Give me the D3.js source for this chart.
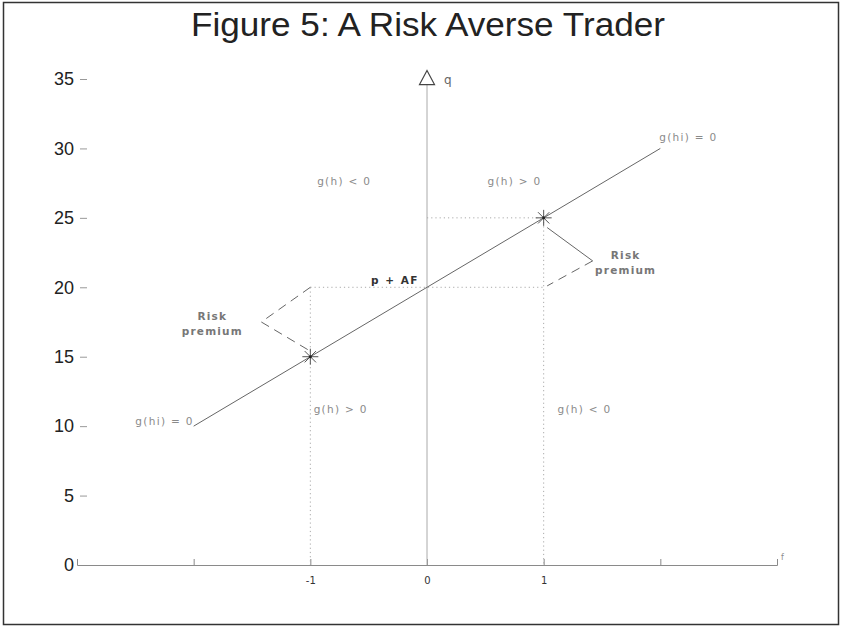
<!DOCTYPE html>
<html>
<head>
<meta charset="utf-8">
<script src="https://cdn.jsdelivr.net/npm/d3@7"></script>
<style>
  html, body { margin: 0; padding: 0; background: #fff; }
  svg { display: block; }
</style>
</head>
<body>
<svg id="chart" width="842" height="628"></svg>
<script>
// Axis ticks
const yTicks = [0, 5, 10, 15, 20, 25, 30, 35];
const xTicks = [-2, -1, 0, 1, 2];
const xTickLabels = ["", "-1", "0", "1", ""];

// Hedging line g(hi) = 0 : endpoints in (f, q)
const lineF = [-2, 2];
const lineQ = [10, 30];

// Chosen positions (asterisks)
const pointF = [-1, 1];
const pointQ = [15, 25];

// Reference level p + AF
const refQ = 20;

// Risk premium brackets (f, q)
const bracketLeftF = [-1, -1.42, -1];
const bracketLeftQ = [20, 17.5, 15.4];
const bracketRightF = [1.03, 1.42, 1.03];
const bracketRightQ = [24.3, 21.9, 20.1];

// Region annotations
const regionText = ["g(h) < 0", "g(h) > 0", "g(h) > 0", "g(h) < 0"];
const regionF = [-0.71, 0.75, -0.74, 1.35];
const regionQ = [27.6, 27.6, 11.2, 11.2];

const svg = d3.select("#chart");
const W = 842, H = 628;

const x = d3.scaleLinear().domain([-3, 3]).range([77, 777]);
const y = d3.scaleLinear().domain([0, 35]).range([565, 79]);

const soft = "#8a8a8a";
const labelFont = "'DejaVu Sans', Verdana, sans-serif";

// Frame
svg.append("rect")
  .attr("x", 3.5).attr("y", 2.5)
  .attr("width", W - 7).attr("height", H - 6)
  .attr("fill", "none").attr("stroke", "#333").attr("stroke-width", 1.5);

// Title
svg.append("text")
  .attr("x", 428).attr("y", 36)
  .attr("text-anchor", "middle")
  .attr("font-family", "'Liberation Sans Narrow', 'Liberation Sans', Arial, sans-serif")
  .attr("font-size", 34)
  .attr("fill", "#222")
  .attr("textLength", 474)
  .attr("lengthAdjust", "spacingAndGlyphs")
  .text("Figure 5: A Risk Averse Trader");

// Y ticks (detached marks, no spine)
const yAxis = svg.append("g")
  .attr("transform", "translate(87,0)")
  .call(d3.axisLeft(y).tickValues(yTicks).tickSize(7).tickPadding(6).tickFormat(d3.format("d")));
yAxis.select(".domain").remove();
yAxis.selectAll(".tick line").attr("stroke", "#999");
yAxis.selectAll(".tick text")
  .attr("font-family", "'Liberation Sans', Arial, sans-serif")
  .attr("font-size", 18)
  .attr("fill", "#222");

// X axis with upturned ends and inward ticks
const xAxis = svg.append("g")
  .attr("transform", `translate(0,${y(0)})`)
  .call(d3.axisBottom(x).tickValues(xTicks).tickSizeInner(-6).tickSizeOuter(-6).tickPadding(12)
    .tickFormat((d, i) => xTickLabels[i]));
xAxis.select(".domain").attr("stroke", soft);
xAxis.selectAll(".tick line").attr("stroke", soft);
xAxis.selectAll(".tick text")
  .attr("font-family", labelFont)
  .attr("font-size", 10)
  .attr("fill", "#333");

svg.append("text")
  .attr("x", x(3) + 4).attr("y", y(0) - 5)
  .attr("font-family", labelFont).attr("font-size", 8).attr("fill", soft)
  .text("f");

// Vertical q axis with hollow arrow head
const qTop = 34.6;
svg.append("line")
  .attr("x1", x(0)).attr("x2", x(0))
  .attr("y1", y(0)).attr("y2", y(qTop))
  .attr("stroke", "#aaa").attr("stroke-width", 1);
svg.append("path")
  .attr("d", `M${x(0)},${y(qTop) - 14}L${x(0) - 7.5},${y(qTop)}L${x(0) + 7.5},${y(qTop)}Z`)
  .attr("fill", "#fff").attr("stroke", "#444").attr("stroke-width", 1.2);
svg.append("text")
  .attr("x", x(0) + 17).attr("y", y(qTop) - 1)
  .attr("font-family", labelFont).attr("font-size", 12).attr("fill", "#666")
  .text("q");

// Dotted guide lines
const dotted = svg.append("g")
  .attr("stroke", "#aaa").attr("stroke-width", 1)
  .attr("stroke-dasharray", "1.2,3").attr("fill", "none");
dotted.append("line")
  .attr("x1", x(pointF[0])).attr("x2", x(pointF[1]))
  .attr("y1", y(refQ)).attr("y2", y(refQ));
dotted.append("line")
  .attr("x1", x(0)).attr("x2", x(pointF[1]))
  .attr("y1", y(pointQ[1])).attr("y2", y(pointQ[1]));
pointF.forEach((f, i) => {
  dotted.append("line")
    .attr("x1", x(f)).attr("x2", x(f))
    .attr("y1", y(Math.max(refQ, pointQ[i]))).attr("y2", y(0));
});

// Main line
svg.append("path")
  .datum(lineF.map((f, i) => [f, lineQ[i]]))
  .attr("d", d3.line().x(d => x(d[0])).y(d => y(d[1])))
  .attr("fill", "none").attr("stroke", "#666").attr("stroke-width", 1);

// Risk premium brackets
const seg = (f, q) => d3.line().x(d => x(d[0])).y(d => y(d[1]))(f.map((v, i) => [v, q[i]]));
svg.append("path")
  .attr("d", seg(bracketLeftF, bracketLeftQ))
  .attr("fill", "none").attr("stroke", "#666").attr("stroke-dasharray", "9,6");
svg.append("path")
  .attr("d", seg(bracketRightF.slice(0, 2), bracketRightQ.slice(0, 2)))
  .attr("fill", "none").attr("stroke", "#666");
svg.append("path")
  .attr("d", seg(bracketRightF.slice(1), bracketRightQ.slice(1)))
  .attr("fill", "none").attr("stroke", "#666").attr("stroke-dasharray", "9,6");

// Asterisks at chosen positions
const star = svg.append("g");
pointF.forEach((f, i) => {
  const cx = x(f), cy = y(pointQ[i]);
  const g = star.append("g").attr("transform", `translate(${cx},${cy})`);
  [0, 45, 90, 135].forEach(a => {
    const r = 8, t = a * Math.PI / 180;
    g.append("line")
      .attr("x1", -r * Math.cos(t)).attr("y1", -r * Math.sin(t))
      .attr("x2", r * Math.cos(t)).attr("y2", r * Math.sin(t))
      .attr("stroke", "#555").attr("stroke-width", 1);
  });
  g.append("circle").attr("r", 1.5).attr("fill", "#222");
});

// Text annotations
const annot = svg.append("g")
  .attr("font-family", labelFont).attr("fill", soft)
  .attr("font-size", 10.5).attr("letter-spacing", 1.3);

regionText.forEach((t, i) => {
  annot.append("text")
    .attr("x", x(regionF[i])).attr("y", y(regionQ[i]))
    .attr("text-anchor", "middle").attr("dy", "0.35em")
    .text(t);
});

annot.append("text")
  .attr("x", x(lineF[1]) + 28).attr("y", y(lineQ[1]) - 11)
  .attr("text-anchor", "middle").attr("dy", "0.35em")
  .text("g(hi) = 0");
annot.append("text")
  .attr("x", x(lineF[0])).attr("y", y(lineQ[0]) - 5)
  .attr("text-anchor", "end").attr("dy", "0.35em")
  .text("g(hi) = 0");

annot.append("text")
  .attr("x", x(0) - 8).attr("y", y(refQ) - 7)
  .attr("text-anchor", "end").attr("dy", "0.35em")
  .attr("fill", "#333").attr("font-weight", "bold").attr("letter-spacing", 1.5)
  .text("p + AF");

[[x(bracketLeftF[1]) - 49, y(bracketLeftQ[1]) - 6], [x(bracketRightF[1]) + 33, y(bracketRightQ[1]) - 6]]
  .forEach(([px, py]) => {
    const t = annot.append("text")
      .attr("x", px).attr("y", py)
      .attr("text-anchor", "middle")
      .attr("fill", "#777").attr("font-weight", "bold").attr("letter-spacing", 1.2);
    t.append("tspan").attr("x", px).attr("dy", "0.35em").text("Risk");
    t.append("tspan").attr("x", px).attr("dy", "1.45em").text("premium");
  });
</script>
</body>
</html>
